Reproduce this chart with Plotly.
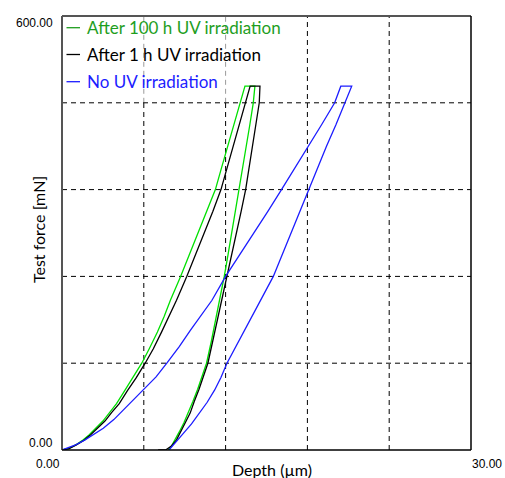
import plotly.graph_objects as go

# ---- data ----
green_load_depth = [0, 0.5, 1.0, 1.56, 2.0, 2.5, 3.0, 3.5, 4.0, 4.6, 5.2, 5.85, 6.4, 7.0, 7.5, 7.95,
                    8.7, 9.35, 10.0, 10.65, 11.25, 11.7, 12.16, 12.61, 13.05, 13.25, 13.42]
green_load_force = [0, 2, 7, 14, 21, 30, 40, 52, 64, 82, 100, 120, 140, 163, 185, 207,
                    240, 270, 300, 330, 360, 390, 420, 450, 480, 492, 503]
green_unload_depth = [14.15, 14.03, 13.78, 13.52, 13.26, 13.0, 12.73, 12.46, 12.18, 11.9, 11.6, 11.28,
                      10.95, 10.6, 10.3, 9.95, 9.6, 9.25, 8.95, 8.6, 8.3, 8.05, 7.8]
green_unload_force = [503, 480, 450, 420, 390, 360, 330, 300, 270, 240, 210, 180,
                      150, 120, 102, 84, 67, 51, 38, 25, 14, 6, 0]

black_load_depth = [0, 0.52, 1.05, 1.65, 2.1, 2.6, 3.15, 3.65, 4.2, 4.8, 5.45, 6.1, 6.7, 7.3, 7.85, 8.4,
                    9.15, 9.8, 10.45, 11.07, 11.66, 12.1, 12.56, 13.0, 13.45, 13.63, 13.8]
black_load_force = [0, 2, 7, 14, 21, 30, 40, 52, 64, 82, 100, 120, 140, 163, 185, 207,
                    240, 270, 300, 330, 360, 390, 420, 450, 480, 492, 503]
black_unload_depth = [14.52, 14.47, 14.22, 13.97, 13.72, 13.47, 13.14, 12.8, 12.45, 12.1, 11.75, 11.4,
                      11.05, 10.7, 10.4, 10.05, 9.7, 9.4, 9.05, 8.7, 8.4, 8.0, 7.6, 7.05]
black_unload_force = [503, 480, 450, 420, 390, 360, 330, 300, 270, 240, 210, 180,
                      150, 120, 102, 84, 67, 51, 38, 25, 14, 5, 0, 0]

blue_load_depth = [0, 0.5, 1.0, 1.69, 2.3, 3.03, 3.8, 4.5, 5.2, 5.97, 6.9, 7.73, 8.6, 9.4, 10.2, 11.0,
                   12.0, 13.05, 14.1, 15.1, 16.1, 17.1, 18.1, 19.05, 20.0, 20.45]
blue_load_force = [0, 3, 7, 14, 21, 30, 42, 55, 68, 83, 101, 121, 143, 165, 186, 207,
                   240, 270, 300, 330, 360, 390, 420, 450, 480, 503]
blue_unload_depth = [21.25, 20.76, 20.1, 19.4, 18.75, 18.1, 17.45, 16.8, 16.15, 15.5, 14.65, 13.8,
                     12.95, 12.1, 11.65, 11.2, 10.65, 10.1, 9.5, 8.9, 8.35, 7.85]
blue_unload_force = [503, 480, 450, 420, 390, 360, 330, 300, 270, 240, 210, 180,
                     150, 120, 100, 83, 66, 51, 36, 23, 11, 0]

x_range = [0, 30]
y_range = [0, 600]
x_grid = [6, 12, 18, 24]
y_grid = [120, 240, 360, 480]
x_tick_labels = ["0.00", "30.00"]
y_tick_labels = ["0.00", "600.00"]

series_names = ["After 100 h UV irradiation", "After 1 h UV irradiation", "No UV irradiation"]
curve_colors = ["#00e000", "#000000", "#1c1cff"]
text_colors = ["#1e9e1e", "#000000", "#1c1cff"]

series = [
    (green_load_depth + green_unload_depth, green_load_force + green_unload_force),
    (black_load_depth + black_unload_depth, black_load_force + black_unload_force),
    (blue_load_depth + blue_unload_depth, blue_load_force + blue_unload_force),
]

fig = go.Figure()

shapes = []
dash = "5px,4px"
for gx in x_grid:
    if gx in (6, 12):
        shapes.append(dict(type="line", xref="x", yref="y", x0=gx, x1=gx, y0=0, y1=480,
                           line=dict(color="black", width=1, dash=dash), layer="below"))
        shapes.append(dict(type="line", xref="x", yref="y", x0=gx, x1=gx, y0=480, y1=600,
                           line=dict(color="#9a9a9a", width=1, dash=dash), layer="below"))
    else:
        shapes.append(dict(type="line", xref="x", yref="y", x0=gx, x1=gx, y0=0, y1=600,
                           line=dict(color="black", width=1, dash=dash), layer="below"))
for gy in y_grid:
    shapes.append(dict(type="line", xref="x", yref="y", x0=0, x1=30, y0=gy, y1=gy,
                       line=dict(color="black", width=1, dash=dash), layer="below"))
# frame
shapes.append(dict(type="line", xref="paper", yref="paper", x0=0, x1=1, y0=1, y1=1,
                   line=dict(color="#555555", width=2)))
shapes.append(dict(type="line", xref="paper", yref="paper", x0=0, x1=0, y0=0, y1=1,
                   line=dict(color="#555555", width=2)))
shapes.append(dict(type="line", xref="paper", yref="paper", x0=0, x1=1, y0=0, y1=0,
                   line=dict(color="black", width=1.5)))
shapes.append(dict(type="line", xref="paper", yref="paper", x0=1, x1=1, y0=0, y1=1,
                   line=dict(color="black", width=1.5)))

for (xs, ys), name, col in zip(series, series_names, curve_colors):
    fig.add_trace(go.Scatter(x=xs, y=ys, mode="lines", name=name,
                             line=dict(color=col, width=1.3), showlegend=False))

annotations = []
# custom legend
leg_y = [27.7, 54.5, 81.7]  # pixel rows from top of figure
top, bottom = 16.0, 450.0
for name, tc, py in zip(series_names, text_colors, leg_y):
    yp = (bottom - py) / (bottom - top)
    shapes.append(dict(type="line", xref="paper", yref="paper", x0=0.011, x1=0.044, y0=yp, y1=yp,
                       line=dict(color=tc, width=1.3)))
    annotations.append(dict(xref="paper", yref="paper", x=0.056, y=yp, text=name, showarrow=False,
                            xanchor="left", yanchor="middle",
                            font=dict(family="Lato", size=17, color=tc)))

tick_font = dict(family="Liberation Sans", size=12, color="black")
annotations.append(dict(xref="paper", yref="paper", x=-0.018, y=1 - 7 / 434, text=y_tick_labels[1],
                        showarrow=False, xanchor="right", yanchor="middle", font=tick_font))
annotations.append(dict(xref="paper", yref="paper", x=-0.018, y=7 / 434, text=y_tick_labels[0],
                        showarrow=False, xanchor="right", yanchor="middle", font=tick_font))
annotations.append(dict(xref="paper", yref="paper", x=-14 / 409, y=-14 / 434, text=x_tick_labels[0],
                        showarrow=False, xanchor="center", yanchor="middle", font=tick_font))
annotations.append(dict(xref="paper", yref="paper", x=1 + 16 / 409, y=-14 / 434, text=x_tick_labels[1],
                        showarrow=False, xanchor="center", yanchor="middle", font=tick_font))
# axis titles
annotations.append(dict(xref="paper", yref="paper", x=(272 - 62) / 409, y=-(469 - 450) / 434,
                        text="Depth (µm)", showarrow=False, xanchor="center", yanchor="middle",
                        font=dict(family="Lato", size=16, color="black")))
annotations.append(dict(xref="paper", yref="paper", x=-(62 - 38) / 409, y=(450 - 230) / 434,
                        text="Test force [mN]", showarrow=False, xanchor="center", yanchor="middle",
                        textangle=-90, font=dict(family="Lato", size=16, color="black")))

fig.update_layout(
    width=505, height=478,
    margin=dict(l=62, r=34, t=16, b=28),
    paper_bgcolor="white", plot_bgcolor="white",
    xaxis=dict(range=x_range, showgrid=False, zeroline=False, showticklabels=False, ticks=""),
    yaxis=dict(range=y_range, showgrid=False, zeroline=False, showticklabels=False, ticks=""),
    shapes=shapes, annotations=annotations,
)

fig.write_html("out.html", config={"displayModeBar": False},
               post_script="document.body.style.margin='0';")
